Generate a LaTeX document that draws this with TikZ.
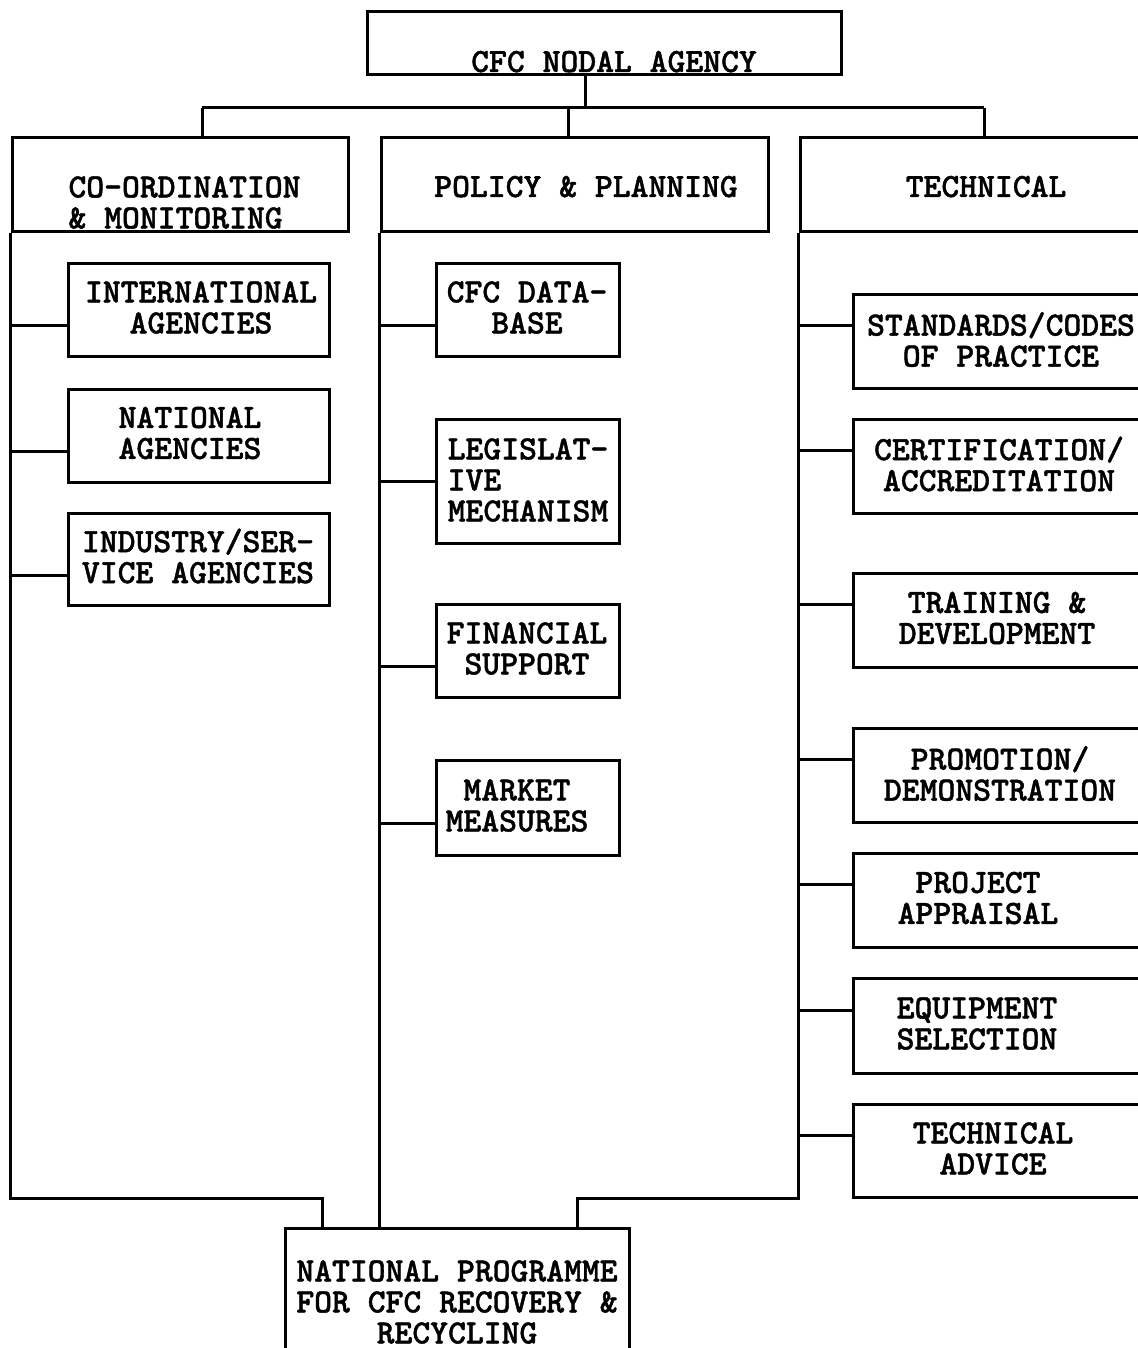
\documentclass[tikz,border=0pt]{standalone}
\usepackage{fontspec}
\newfontfamily\dfont{lmmonolt10-bold}[Extension=.otf, FakeBold=1.2]
\begin{document}
\begin{tikzpicture}[x=0.5pt,y=-0.5pt,
  bx/.style={draw, line width=1.5pt, inner sep=0pt},
  tx/.style={font={\dfont\fontsize{17pt}{15.5pt}\selectfont}, align=center, inner sep=0pt},
  ln/.style={line width=1.5pt}]
\useasboundingbox (0,0) rectangle (1138,1348);
\fill[white] (0,0) rectangle (1138,1348);
\clip (0,0) rectangle (1138,1348);
% top
\node[bx, minimum width=237pt, minimum height=31.5pt] (top) at (604,43.5) {};
\node[tx, anchor=base] (topt) at (614,72) {CFC NODAL AGENCY};
% headers
\node[bx, minimum width=168pt, minimum height=47pt] (hL) at (180,185) {};
\node[bx, minimum width=193.5pt, minimum height=47pt] (hM) at (574.5,185) {};
\node[bx, minimum width=185pt, minimum height=47pt] (hR) at (985,185) {};
\node[tx, align=left] (hLt) at (184.5,202.5) {CO-ORDINATION\\\& MONITORING};
\node[tx, anchor=base] (hMt) at (586,197) {POLICY \& PLANNING};
\node[tx, anchor=base] (hRt) at (986,197) {TECHNICAL};
% top connectors
\coordinate (tj) at (585,108);
\coordinate (tL) at (202,108);
\coordinate (tM) at (568,108);
\coordinate (tR) at (984,108);
\draw[ln] (tj |- top.south) -- (tj);
\draw[ln] (tL) -- (tR);
\draw[ln] (tL) -- (tL |- hL.north);
\draw[ln] (tM) -- (tM |- hM.north);
\draw[ln] (tR) -- (tR |- hR.north);
% bottom box
\node[bx, minimum width=172pt, minimum height=71pt] (bot) at (457,1299) {};
\node[tx] (bott) at (457,1302) {NATIONAL PROGRAMME\\FOR CFC RECOVERY \&\\RECYCLING};
% column lines
\coordinate (jL) at (322,1198);
\coordinate (jR) at (577,1198);
\draw[ln] (hL.south west) -- (hL.south west |- jL) -- (jL) -- (jL |- bot.north);
\draw[ln] (hM.south west) -- (hM.south west |- bot.north);
\draw[ln] (hR.south west) -- (hR.south west |- jR) -- (jR) -- (jR |- bot.north);
% left boxes
\node[bx, minimum width=130.5pt, minimum height=46.5pt] (b1) at (198.5,309.5) {};
\node[tx] (b1t) at (201,307.5) {INTERNATIONAL\\AGENCIES};
\node[bx, minimum width=130.5pt, minimum height=46.5pt] (b2) at (198.5,435.5) {};
\node[tx] (b2t) at (190,433) {NATIONAL\\AGENCIES};
\node[bx, minimum width=130.5pt, minimum height=46pt] (b3) at (198.5,559) {};
\node[tx] (b3t) at (198,556) {INDUSTRY/SER-\\VICE AGENCIES};
% middle boxes
\node[bx, minimum width=91.5pt, minimum height=46.5pt] (m1) at (527.5,309.5) {};
\node[tx] (m1t) at (527,307.5) {CFC DATA-\\BASE};
\node[bx, minimum width=91.5pt, minimum height=62pt] (m2) at (527.5,481) {};
\node[tx, align=left] (m2t) at (528,480) {LEGISLAT-\\IVE\\MECHANISM};
\node[bx, minimum width=91.5pt, minimum height=46.5pt] (m3) at (527.5,650.5) {};
\node[tx] (m3t) at (527,648.5) {FINANCIAL\\SUPPORT};
\node[bx, minimum width=91.5pt, minimum height=47.5pt] (m4) at (527.5,807.5) {};
\node[tx] (m4t) at (517,805.5) {MARKET\\MEASURES};
% right boxes
\node[bx, minimum width=148.5pt, minimum height=47pt] (r1) at (1001.5,341) {};
\node[tx] (r1t) at (1001,339.5) {STANDARDS/CODES\\OF PRACTICE};
\node[bx, minimum width=148.5pt, minimum height=47pt] (r2) at (1001.5,466) {};
\node[tx] (r2t) at (999,464) {CERTIFICATION/\\ACCREDITATION};
\node[bx, minimum width=148.5pt, minimum height=47pt] (r3) at (1001.5,620) {};
\node[tx] (r3t) at (997,618) {TRAINING \&\\DEVELOPMENT};
\node[bx, minimum width=148.5pt, minimum height=47pt] (r4) at (1001.5,775) {};
\node[tx] (r4t) at (1000,773.5) {PROMOTION/\\DEMONSTRATION};
\node[bx, minimum width=148.5pt, minimum height=47pt] (r5) at (1001.5,900) {};
\node[tx] (r5t) at (978,898) {PROJECT\\APPRAISAL};
\node[bx, minimum width=148.5pt, minimum height=47.5pt] (r6) at (1001.5,1025.5) {};
\node[tx] (r6t) at (977,1023.5) {EQUIPMENT\\SELECTION};
\node[bx, minimum width=148.5pt, minimum height=46.5pt] (r7) at (1001.5,1150.5) {};
\node[tx] (r7t) at (993,1148.5) {TECHNICAL\\ADVICE};
% branch connectors
\foreach \n/\s in {b1/-7.75pt,b2/-7.75pt,b3/-8pt}{
  \coordinate (c\n) at ([yshift=\s]\n.west);
  \draw[ln] (c\n) -- (c\n -| hL.south west);}
\foreach \n/\s in {m1/-7.75pt,m2/0pt,m3/-7.75pt,m4/-7.75pt}{
  \coordinate (c\n) at ([yshift=\s]\n.west);
  \draw[ln] (c\n) -- (c\n -| hM.south west);}
\foreach \n in {r1,r2,r3,r4,r5,r6,r7}{
  \coordinate (c\n) at ([yshift=7.75pt]\n.west);
  \draw[ln] (c\n) -- (c\n -| hR.south west);}
\end{tikzpicture}
\end{document}
